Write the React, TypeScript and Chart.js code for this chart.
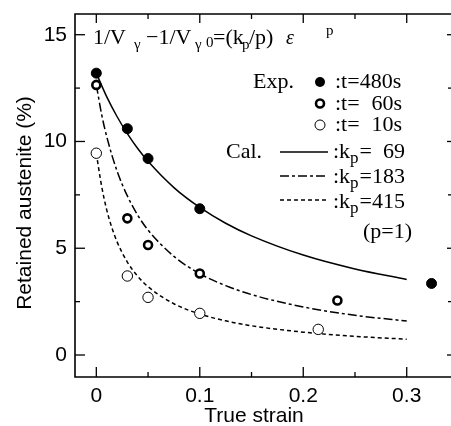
import React, { useEffect, useRef } from "react";
import { Chart, registerables } from "chart.js";

Chart.register(...registerables);

// ---- axis ticks ----
const xTicks = [0, 0.1, 0.2, 0.3];
const xMinorTicks = [0.05, 0.15, 0.25];
const yTicks = [0, 5, 10, 15];
const yMinorTicks = [2.5, 7.5, 12.5];

// ---- experimental points ----
const exp480X = [0, 0.03, 0.05, 0.1, 0.324];
const exp480Y = [13.2, 10.6, 9.2, 6.85, 3.35];
const exp60X = [0, 0.03, 0.05, 0.1, 0.233];
const exp60Y = [12.65, 6.4, 5.15, 3.82, 2.55];
const exp10X = [0, 0.03, 0.05, 0.1, 0.2145];
const exp10Y = [9.45, 3.7, 2.7, 1.95, 1.2];

// ---- calculated curves ----
const cal69X = [0, 0.01, 0.02, 0.03, 0.04, 0.05, 0.075, 0.1, 0.125, 0.15, 0.2, 0.25, 0.3];
const cal69Y = [13.2, 12.1, 11.17, 10.37, 9.67, 9.07, 7.84, 6.91, 6.17, 5.58, 4.68, 4.03, 3.54];
const cal183X = [0, 0.005, 0.01, 0.02, 0.03, 0.04, 0.05, 0.075, 0.1, 0.125, 0.15, 0.2, 0.25, 0.3];
const cal183Y = [12.65, 11.3, 10.24, 8.62, 7.45, 6.55, 5.85, 4.62, 3.81, 3.25, 2.83, 2.25, 1.86, 1.59];
const cal415X = [0, 0.005, 0.01, 0.015, 0.02, 0.03, 0.04, 0.05, 0.075, 0.1, 0.125, 0.15, 0.2, 0.25, 0.3];
const cal415Y = [9.45, 7.94, 6.81, 5.97, 5.31, 4.35, 3.69, 3.2, 2.4, 1.92, 1.6, 1.37, 1.07, 0.875, 0.74];

const SANS = '"Liberation Sans", Arial, sans-serif';
const SERIF = '"Liberation Serif", "Times New Roman", serif';

const dashDot = [9, 3, 3, 3];
const dashed = [4, 3];

export default function App() {
  const ref = useRef<HTMLCanvasElement>(null);

  useEffect(() => {
    const canvas = ref.current!;
    const pts = (xs: number[], ys: number[]) => xs.map((x, i) => ({ x, y: ys[i] }));

    const overlay = {
      id: "overlay",
      afterDraw(chart: any) {
        const ctx = chart.ctx as CanvasRenderingContext2D;
        const { left, top, bottom } = chart.chartArea;
        const edge = 451;
        const xs = chart.scales.x;
        const ys = chart.scales.y;
        const line = (x1: number, y1: number, x2: number, y2: number) => {
          ctx.beginPath();
          ctx.moveTo(x1, y1);
          ctx.lineTo(x2, y2);
          ctx.stroke();
        };
        ctx.save();
        ctx.strokeStyle = "#000";
        ctx.fillStyle = "#000";
        ctx.setLineDash([]);
        ctx.lineWidth = 1.6;
        ctx.beginPath();
        ctx.moveTo(edge + 2, top);
        ctx.lineTo(left, top);
        ctx.lineTo(left, bottom);
        ctx.lineTo(edge + 2, bottom);
        ctx.stroke();
        ctx.lineWidth = 1.3;
        for (const v of xTicks) {
          const px = xs.getPixelForValue(v);
          line(px, bottom, px, bottom - 10);
          line(px, top, px, top + 9);
        }
        for (const v of xMinorTicks) {
          const px = xs.getPixelForValue(v);
          line(px, bottom, px, bottom - 5);
          line(px, top, px, top + 5);
        }
        for (const v of yTicks) {
          const py = ys.getPixelForValue(v);
          line(left, py, left + 10, py);
          line(edge, py, edge - 4, py);
        }
        for (const v of yMinorTicks) {
          const py = ys.getPixelForValue(v);
          line(left, py, left + 5, py);
          line(edge, py, edge - 3, py);
        }

        // axis titles
        ctx.font = `21px ${SANS}`;
        ctx.textAlign = "center";
        ctx.textBaseline = "alphabetic";
        ctx.fillText("True strain", 254, 422);
        ctx.save();
        ctx.translate(31, 203);
        ctx.rotate(-Math.PI / 2);
        ctx.fillText("Retained austenite (%)", 0, 0);
        ctx.restore();

        // formula
        ctx.textAlign = "left";
        const big = `22px ${SERIF}`;
        const small = `15px ${SERIF}`;
        const it = `italic 20px ${SERIF}`;
        const base = 44;
        const put = (t: string, f: string, x: number, dy: number) => {
          ctx.font = f;
          ctx.fillText(t, x, base + dy);
        };
        put("1/V", big, 93, 0);
        put("γ", small, 134, 5);
        put("−1/V", big, 146, 0);
        put("γ", small, 195, 5);
        put("0", small, 206, 3);
        put("=(k", big, 213, 0);
        put("p", small, 242, 5);
        put("/p)", big, 249, 0);
        put("ε", it, 286, 0);
        put("p", small, 326, -9);

        // legend
        ctx.font = big;
        ctx.fillText("Exp.", 253, 88);
        ctx.fillText("Cal.", 226, 158);
        ctx.fillText(":t=480s", 335, 88);
        ctx.fillText(":t=", 335, 110);
        ctx.fillText(":t=", 335, 131);
        ctx.textAlign = "right";
        ctx.fillText("60s", 402, 110);
        ctx.fillText("10s", 402, 131);
        // markers
        ctx.beginPath();
        ctx.arc(320, 82, 5, 0, Math.PI * 2);
        ctx.fill();
        ctx.lineWidth = 2.6;
        ctx.beginPath();
        ctx.arc(320, 103.5, 4, 0, Math.PI * 2);
        ctx.stroke();
        ctx.lineWidth = 1;
        ctx.beginPath();
        ctx.arc(320, 125, 5, 0, Math.PI * 2);
        ctx.stroke();

        const rowsK = [
          { y: 152, base: 158, val: "69", dash: [] as number[] },
          { y: 176, base: 183, val: "183", dash: dashDot },
          { y: 200, base: 208, val: "415", dash: dashed },
        ];
        ctx.font = big;
        const numW = ctx.measureText("183").width;
        rowsK.forEach((r) => {
          ctx.setLineDash(r.dash);
          ctx.lineWidth = 1.4;
          line(280, r.y, 328, r.y);
          ctx.setLineDash([]);
          ctx.textAlign = "left";
          let x = 333;
          ctx.font = big;
          ctx.fillText(":k", x, r.base);
          x += ctx.measureText(":k").width;
          ctx.font = `17px ${SERIF}`;
          ctx.fillText("p", x, r.base + 5);
          x += ctx.measureText("p").width + 1;
          ctx.font = big;
          ctx.fillText("=", x, r.base);
          x += ctx.measureText("=").width;
          ctx.textAlign = "right";
          ctx.fillText(r.val, x + numW, r.base);
        });
        ctx.textAlign = "left";
        ctx.fillText("(p=1)", 363, 238);
        ctx.restore();
      },
    };

    const chart = new Chart(canvas, {
      type: "scatter",
      data: {
        datasets: [
          {
            label: "t=480s",
            data: pts(exp480X, exp480Y),
            pointRadius: 5,
            pointHoverRadius: 0,
            pointBackgroundColor: "#000",
            pointBorderColor: "#000",
            pointBorderWidth: 1,
            showLine: false,
            order: 0,
          },
          {
            label: "t=60s",
            data: pts(exp60X, exp60Y),
            pointRadius: 4,
            pointHoverRadius: 0,
            pointBackgroundColor: "#fff",
            pointBorderColor: "#000",
            pointBorderWidth: 2.6,
            showLine: false,
            order: 0,
          },
          {
            label: "t=10s",
            data: pts(exp10X, exp10Y),
            pointRadius: 5.2,
            pointHoverRadius: 0,
            pointBackgroundColor: "#fff",
            pointBorderColor: "#000",
            pointBorderWidth: 1,
            showLine: false,
            order: 0,
          },
          {
            label: "kp=69",
            data: pts(cal69X, cal69Y),
            showLine: true,
            pointRadius: 0,
            pointHoverRadius: 0,
            borderColor: "#000",
            borderWidth: 1.5,
            cubicInterpolationMode: "monotone",
            order: 1,
          },
          {
            label: "kp=183",
            data: pts(cal183X, cal183Y),
            showLine: true,
            pointRadius: 0,
            pointHoverRadius: 0,
            borderColor: "#000",
            borderWidth: 1.5,
            borderDash: dashDot,
            cubicInterpolationMode: "monotone",
            order: 1,
          },
          {
            label: "kp=415",
            data: pts(cal415X, cal415Y),
            showLine: true,
            pointRadius: 0,
            pointHoverRadius: 0,
            borderColor: "#000",
            borderWidth: 1.5,
            borderDash: dashed,
            cubicInterpolationMode: "monotone",
            order: 1,
          },
        ] as any,
      },
      options: {
        animation: false,
        responsive: false,
        devicePixelRatio: 1,
        events: [],
        layout: { autoPadding: false, padding: { left: 0, top: 14, right: 0, bottom: 0 } },
        plugins: { legend: { display: false }, tooltip: { enabled: false } },
        scales: {
          x: {
            type: "linear",
            min: -0.0206,
            max: 0.3428,
            grid: { display: false, drawTicks: false },
            border: { display: false },
            afterBuildTicks: (s: any) => {
              s.ticks = xTicks.map((v) => ({ value: v }));
            },
            afterFit: (s: any) => {
              s.height = 49;
              s.paddingLeft = 0;
              s.paddingRight = 0;
            },
            ticks: {
              color: "#000",
              padding: 7,
              maxRotation: 0,
              font: { family: SANS, size: 21 },
              callback: (v: any) => (v === 0 ? "0" : Number(v).toFixed(1)),
            },
          },
          y: {
            type: "linear",
            min: -1.03,
            max: 15.97,
            grid: { display: false, drawTicks: false },
            border: { display: false },
            afterBuildTicks: (s: any) => {
              s.ticks = yTicks.map((v) => ({ value: v }));
            },
            afterFit: (s: any) => {
              s.width = 75;
              s.paddingTop = 0;
              s.paddingBottom = 0;
            },
            ticks: {
              color: "#000",
              padding: 8,
              font: { family: SANS, size: 21 },
              callback: (v: any) => String(v),
            },
          },
        },
      },
      plugins: [overlay],
    });
    return () => chart.destroy();
  }, []);

  return (
    <div
      style={{
        position: "fixed",
        left: 0,
        top: 0,
        width: 451,
        height: 426,
        overflow: "hidden",
        background: "#fff",
      }}
    >
      <canvas ref={ref} width={451} height={426} style={{ display: "block", width: 451, height: 426 }} />
    </div>
  );
}
